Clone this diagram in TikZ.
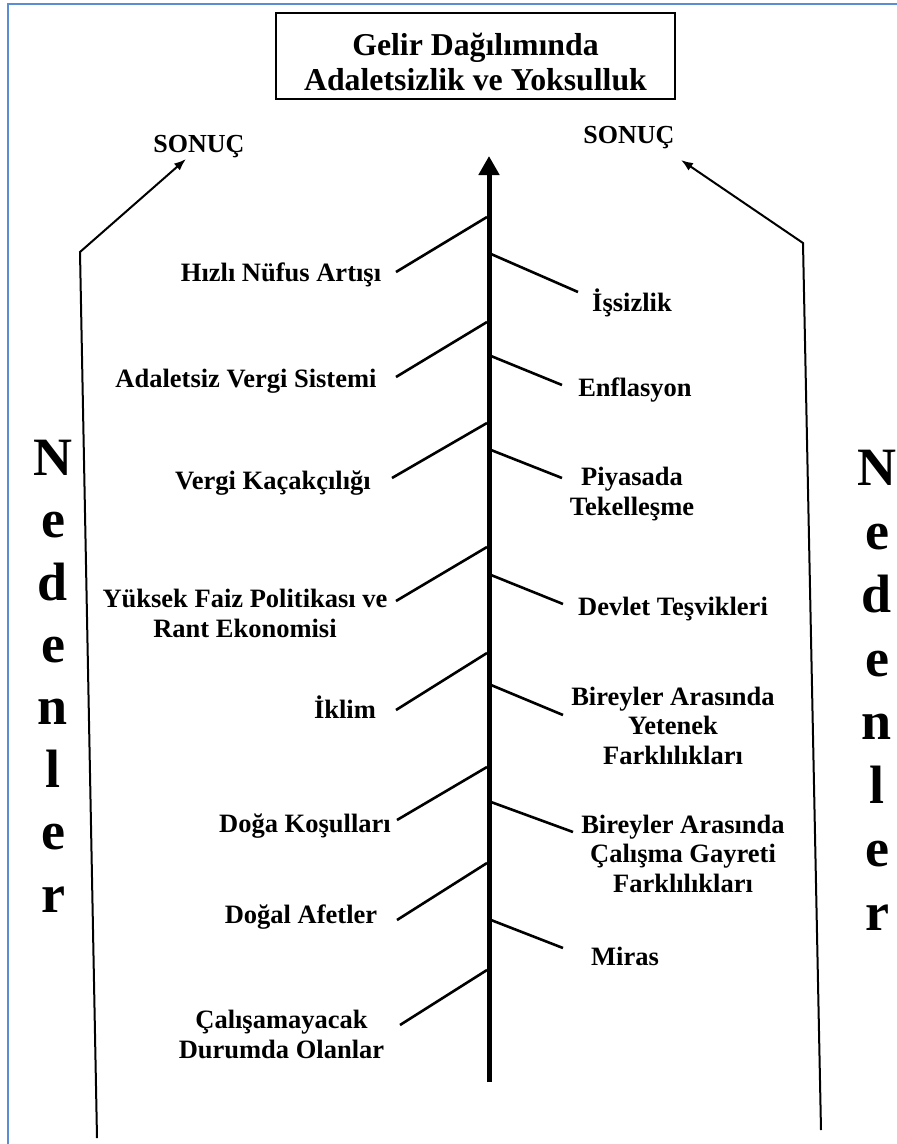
\documentclass[tikz,border=0pt]{standalone}
\usepackage{fontspec}
\setmainfont{Liberation Serif}
\usetikzlibrary{arrows.meta}
\definecolor{framebl}{RGB}{91,141,213}
\begin{document}
\begin{tikzpicture}[x=1pt,y=-1pt,
  lbl/.style={font=\bfseries\fontsize{26.5}{29.5}\selectfont, inner sep=0pt, align=center, anchor=base},
  sonuc/.style={font=\bfseries\fontsize{26}{30}\selectfont, inner sep=0pt, anchor=base},
  titletxt/.style={font=\bfseries\fontsize{31.8}{35}\selectfont, inner sep=0pt, align=center, anchor=base},
  titlebox/.style={draw, line width=1.6pt, minimum width=399pt, minimum height=86pt, inner sep=0pt},
  big/.style={font=\bfseries\fontsize{54}{62.4}\selectfont, inner sep=0pt, align=center, anchor=base},
  bigr/.style={font=\bfseries\fontsize{54}{63.5}\selectfont, inner sep=0pt, align=center, anchor=base},
  branch/.style={line width=2.6pt},
  outer/.style={line width=2pt, -{Latex[length=12pt,width=9pt]}},
  spine/.style={line width=5pt, -{Triangle[length=19pt,width=20pt]}},
  framel/.style={draw=framebl, line width=1.3pt}]
\useasboundingbox (0,0) rectangle (897,1144);
\draw[framel] (8,1150) -- (8,4) -- (905,4);

% title (base anchor = baseline of last line)
\node[titlebox] (tbox) at (475.5,56) {};
\node[titletxt] (title) at (475.5,90) {Gelir Dağılımında\\Adaletsizlik ve Yoksulluk};

% SONUC labels
\node[sonuc] (sonL) at (199,152) {SONUÇ};
\node[sonuc] (sonR) at (629,143) {SONUÇ};

% outer arrows
\coordinate (lbot) at (97,1138);
\coordinate (lcor) at (80,252);
\coordinate (ltip) at (186,159);
\coordinate (rbot) at (821,1130);
\coordinate (rcor) at (803,243);
\coordinate (rtip) at (681,160);
\draw[outer] (lbot) -- (lcor) -- (ltip);
\draw[outer] (rbot) -- (rcor) -- (rtip);

% spine
\coordinate (sbot) at (489,1082);
\coordinate (stop) at (489,156);
\draw[spine] (sbot) -- (stop);

% Nedenler
\node[big] (nedL) at (53,912) {N\\e\\d\\e\\n\\l\\e\\r};
\node[bigr] (nedR) at (877,930) {N\\e\\d\\e\\n\\l\\e\\r};

% left labels
\node[lbl] (l1) at (281,281) {Hızlı Nüfus Artışı};
\node[lbl] (l2) at (246,387) {Adaletsiz Vergi Sistemi};
\node[lbl] (l3) at (273,489) {Vergi Kaçakçılığı};
\node[lbl] (l4) at (245,637) {Yüksek Faiz Politikası ve\\Rant Ekonomisi};
\node[lbl] (l5) at (345,718) {İklim};
\node[lbl] (l6) at (305,832) {Doğa Koşulları};
\node[lbl] (l7) at (301,923) {Doğal Afetler};
\node[lbl] (l8) at (281.5,1058) {Çalışamayacak\\Durumda Olanlar};

% right labels
\node[lbl] (r1) at (632,311) {İşsizlik};
\node[lbl] (r2) at (635,396) {Enflasyon};
\node[lbl] (r3) at (632,515) {Piyasada\\Tekelleşme};
\node[lbl] (r4) at (673,615) {Devlet Teşvikleri};
\node[lbl] (r5) at (673,764) {Bireyler Arasında\\Yetenek\\Farklılıkları};
\node[lbl] (r6) at (683,892) {Bireyler Arasında\\Çalışma Gayreti\\Farklılıkları};
\node[lbl] (r7) at (625,965) {Miras};

% left branches
\coordinate (la1) at (396,272);  \coordinate (ls1) at (487,217);
\coordinate (la2) at (396,377);  \coordinate (ls2) at (487,322);
\coordinate (la3) at (392,478);  \coordinate (ls3) at (487,423);
\coordinate (la4) at (396,601);  \coordinate (ls4) at (487,547);
\coordinate (la5) at (396,710);  \coordinate (ls5) at (487,653);
\coordinate (la6) at (397,820);  \coordinate (ls6) at (487,767);
\coordinate (la7) at (397,920);  \coordinate (ls7) at (487,863);
\coordinate (la8) at (400,1025); \coordinate (ls8) at (487,970);
\foreach \i in {1,...,8} {\draw[branch] (la\i) -- (ls\i);}

% right branches
\coordinate (rs1) at (491,254); \coordinate (ra1) at (578,292);
\coordinate (rs2) at (491,356); \coordinate (ra2) at (562,385);
\coordinate (rs3) at (491,450); \coordinate (ra3) at (562,478);
\coordinate (rs4) at (491,575); \coordinate (ra4) at (563,604);
\coordinate (rs5) at (491,685); \coordinate (ra5) at (563,715);
\coordinate (rs6) at (491,802); \coordinate (ra6) at (573,832);
\coordinate (rs7) at (491,920); \coordinate (ra7) at (563,948);
\foreach \i in {1,...,7} {\draw[branch] (rs\i) -- (ra\i);}
\end{tikzpicture}
\end{document}
